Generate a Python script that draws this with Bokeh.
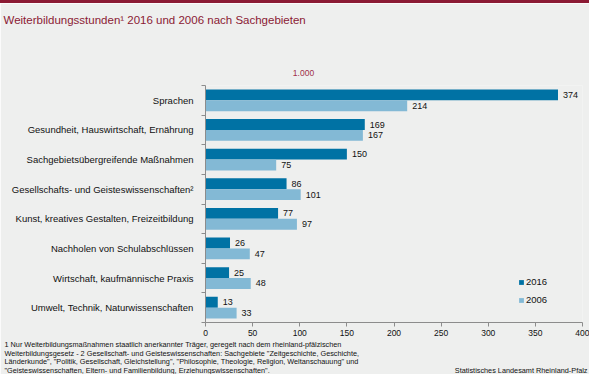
from bokeh.plotting import figure
from bokeh.models import (Range1d, FixedTicker, Label, Legend, LegendItem,
                          ColumnDataSource, Spacer)
from bokeh.layouts import column
from bokeh.embed import file_html
from bokeh.resources import INLINE
from bokeh.core.properties import value

categories = [
    "Sprachen",
    "Gesundheit, Hauswirtschaft, Ernährung",
    "Sachgebietsübergreifende Maßnahmen",
    "Gesellschafts- und Geisteswissenschaften²",
    "Kunst, kreatives Gestalten, Freizeitbildung",
    "Nachholen von Schulabschlüssen",
    "Wirtschaft, kaufmännische Praxis",
    "Umwelt, Technik, Naturwissenschaften",
]
values_2016 = [374, 169, 150, 86, 77, 26, 25, 13]
values_2006 = [214, 167, 75, 101, 97, 47, 48, 33]
series_names = ["2016", "2006"]
x_ticks = [0, 50, 100, 150, 200, 250, 300, 350, 400]

title_text = "Weiterbildungsstunden¹ 2016 und 2006 nach Sachgebieten"
footnote_lines = [
    "1 Nur Weiterbildungsmaßnahmen staatlich anerkannter Träger, geregelt nach dem rheinland-pfälzischen",
    "Weiterbildungsgesetz - 2 Gesellschaft- und Geisteswissenschaften: Sachgebiete \"Zeitgeschichte, Geschichte,",
    "Länderkunde\", \"Politik, Gesellschaft, Gleichstellung\", \"Philosophie, Theologie, Religion, Weltanschauung\" und",
    "\"Geisteswissenschaften, Eltern- und Familienbildung, Erziehungswissenschaften\".",
]
source_text = "Statistisches Landesamt Rheinland-Pfalz"
scale_note = "1.000"

BG = "#eeefee"
C2016 = "#0072a4"
C2006 = "#83b9d5"
DARKRED = "#8b1a34"
FONT = "Liberation Sans"

W, H = 589, 371
n = len(categories)
pos = [n - i for i in range(n)]
off = 0.183
bh = 0.367

src16 = ColumnDataSource(dict(y=[p_ + off for p_ in pos], v=values_2016,
                              t=[str(v) for v in values_2016]))
src06 = ColumnDataSource(dict(y=[p_ - off for p_ in pos], v=values_2006,
                              t=[str(v) for v in values_2006]))

p = figure(width=W, height=H, output_backend="svg", toolbar_location=None,
           x_range=Range1d(0, 400), y_range=Range1d(0.5, n + 0.5),
           min_border_left=205, min_border_right=7, min_border_top=82,
           min_border_bottom=52)
p.background_fill_color = BG
p.border_fill_color = BG
p.outline_line_color = None
p.grid.visible = False

r16 = p.hbar(y="y", right="v", left=0, height=bh, source=src16,
             fill_color=C2016, line_color=None)
r06 = p.hbar(y="y", right="v", left=0, height=bh, source=src06,
             fill_color=C2006, line_color=None)

for s in (src16, src06):
    p.text(x="v", y="y", text="t", source=s, x_offset=5,
           text_font=value(FONT), text_font_size="9px",
           text_baseline="middle", text_align="left", text_color="#111111")

# x axis
xa = p.xaxis[0]
xa.ticker = FixedTicker(ticks=x_ticks)
xa.axis_line_color = "#8c8c8c"
xa.major_tick_line_color = "#8c8c8c"
xa.major_tick_out = 4
xa.major_tick_in = 0
xa.minor_tick_line_color = None
xa.major_label_text_font = FONT
xa.major_label_text_font_size = "8.5px"
xa.major_label_text_color = "#111111"
xa.major_label_standoff = 3

# y axis: labels at category centres, short ticks at category boundaries
ya = p.yaxis[0]
ya.ticker = FixedTicker(ticks=pos, minor_ticks=[k + 0.5 for k in range(n + 1)])
ya.major_label_overrides = {pp: c for pp, c in zip(pos, categories)}
ya.axis_line_color = "#8c8c8c"
ya.major_tick_line_color = None
ya.major_tick_out = 0
ya.major_tick_in = 0
ya.minor_tick_line_color = "#8c8c8c"
ya.minor_tick_out = 4
ya.minor_tick_in = 0
ya.major_label_text_font = FONT
ya.major_label_text_font_size = "9.5px"
ya.major_label_text_color = "#111111"
ya.major_label_standoff = 8

legend = Legend(items=[LegendItem(label=series_names[0], renderers=[r16]),
                       LegendItem(label=series_names[1], renderers=[r06])],
                location=(313, 17), orientation="vertical",
                background_fill_alpha=0, border_line_color=None,
                padding=0, margin=0, spacing=7,
                glyph_width=6, glyph_height=6, label_height=8,
                label_standoff=2, label_text_font=FONT,
                label_text_font_size="9.5px", label_text_color="#111111")
p.add_layout(legend)

# texts outside the plot frame (canvas units, placed in the top panel so
# they are not clipped to the frame)
p.add_layout(Label(x=3, y=16, x_units="canvas", y_units="canvas",
                   text=title_text, text_font=FONT, text_font_size="11.5px",
                   text_color=DARKRED, text_baseline="middle"), "above")
p.add_layout(Label(x=303, y=69, x_units="canvas", y_units="canvas",
                   text=scale_note, text_font=FONT, text_font_size="8.5px",
                   text_color="#a0304a", text_baseline="middle",
                   text_align="center"), "above")
foot_y = [341, 349.5, 358, 366.5]
for yy, line in zip(foot_y, footnote_lines):
    p.add_layout(Label(x=4, y=yy, x_units="canvas", y_units="canvas",
                       text=line, text_font=FONT, text_font_size="7.3px",
                       text_color="#111111", text_baseline="middle"), "above")
p.add_layout(Label(x=587, y=foot_y[-1], x_units="canvas", y_units="canvas",
                   text=source_text, text_font=FONT, text_font_size="7.3px",
                   text_color="#111111", text_baseline="middle",
                   text_align="right"), "above")

top_rule = Spacer(width=W, height=3, styles={"background-color": DARKRED})

layout = column(top_rule, p, spacing=0)
open("out.html", "w").write(file_html(layout, INLINE))
